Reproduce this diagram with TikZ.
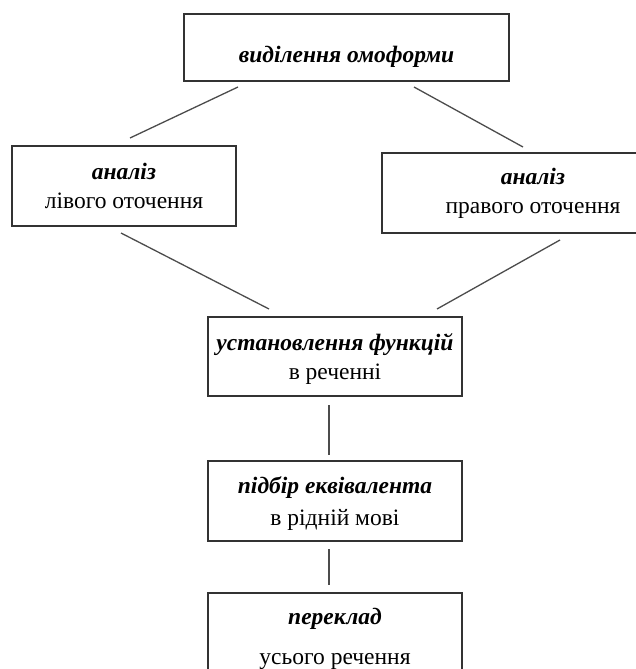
\documentclass[tikz,border=0pt]{standalone}
\usepackage{fontspec}
\setmainfont{Liberation Serif}
\begin{document}
\begin{tikzpicture}[x=1pt,y=-1pt,
  box/.style={draw=black!80, line width=1.4pt, rectangle, inner sep=0pt, align=center,
    font=\fontsize{23.5}{29}\selectfont},
  conn/.style={draw=black!70, line width=1.3pt}]
\useasboundingbox (0,0) rectangle (636,669);
\clip (0,0) rectangle (636,669);
\node[box, minimum width=325pt, minimum height=67pt, text height=33pt, text depth=2pt] (top) at (346.5,47.5)
  {\textbf{\textit{виділення омоформи}}};
\node[box, minimum width=224pt, minimum height=80pt] (left) at (124,186)
  {\textbf{\textit{аналіз}}\\лівого оточення};
\node[box, minimum width=302pt, minimum height=80pt] (right) at (533,193)
  {\textbf{\textit{аналіз}}\\правого оточення};
\node[box, minimum width=254pt, minimum height=79pt, text depth=0pt] (mid) at (335,356.5)
  {\textbf{\textit{установлення функцій}}\\в реченні};
\node[box, minimum width=254pt, minimum height=80pt, text depth=0pt] (equiv) at (335,501)
  {\textbf{\textit{підбір еквівалента}}\\[3pt]в рідній мові};
\node[box, minimum width=254pt, minimum height=92pt] (trans) at (335,639)
  {\textbf{\textit{переклад}}\\[11pt]усього речення};
\coordinate (a1) at (238,87);  \coordinate (a2) at (130,138);
\coordinate (b1) at (414,87);  \coordinate (b2) at (523,147);
\coordinate (c1) at (121,233); \coordinate (c2) at (269,309);
\coordinate (d1) at (560,240); \coordinate (d2) at (437,309);
\coordinate (e1) at (329,405); \coordinate (e2) at (329,455);
\coordinate (f1) at (329,549); \coordinate (f2) at (329,585);
\draw[conn] (a1) -- (a2);
\draw[conn] (b1) -- (b2);
\draw[conn] (c1) -- (c2);
\draw[conn] (d1) -- (d2);
\draw[conn] (e1) -- (e2);
\draw[conn] (f1) -- (f2);
\end{tikzpicture}
\end{document}
